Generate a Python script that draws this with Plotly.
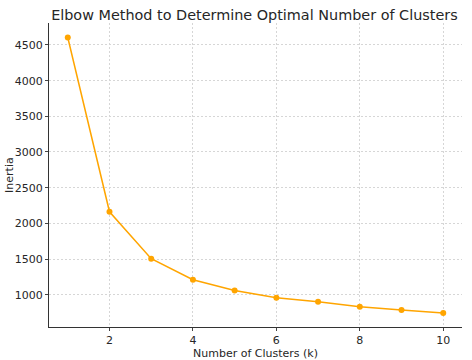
import plotly.graph_objects as go

clusters = [1, 2, 3, 4, 5, 6, 7, 8, 9, 10]
inertia = [4605, 2162, 1504, 1210, 1060, 958, 902, 832, 785, 742]
x_ticks = [2, 4, 6, 8, 10]
y_ticks = [1000, 1500, 2000, 2500, 3000, 3500, 4000, 4500]

fig = go.Figure()
fig.add_trace(go.Scatter(
    x=clusters, y=inertia, mode="lines+markers",
    line=dict(color="#FFA500", width=1.5),
    marker=dict(color="#FFA500", size=6),
))

font = "DejaVu Sans"
fig.update_layout(
    width=472, height=360,
    margin=dict(l=49, r=10, t=23, b=33, autoexpand=False),
    paper_bgcolor="white", plot_bgcolor="white",
    showlegend=False,
    font=dict(family=font, size=11, color="#262626"),
    title=dict(text="Elbow Method to Determine Optimal Number of Clusters",
               x=0.539, xanchor="center", y=0.972, yanchor="top",
               font=dict(family=font, size=14.4, color="#262626")),
)
grid = dict(showgrid=True, gridcolor="#d6d6d6", griddash="2px,2px", gridwidth=0.8)
fig.update_xaxes(
    range=[0.55, 10.45], tickvals=x_ticks, ticks="outside", ticklen=3,
    showline=True, linecolor="#333", linewidth=1, automargin=False,
    zeroline=False, **grid,
    title=dict(text="Number of Clusters (k)", standoff=2, font=dict(size=11)),
)
fig.update_yaxes(
    range=[547, 4808], tickvals=y_ticks, ticks="outside", ticklen=3,
    showline=True, linecolor="#333", linewidth=1, automargin=False,
    zeroline=False, **grid,
)
fig.add_annotation(
    text="Inertia", textangle=-90, showarrow=False,
    xref="paper", yref="paper", x=-0.097, y=0.5,
    xanchor="center", yanchor="middle",
    font=dict(family=font, size=11, color="#262626"),
)
fig.write_html("out.html", config={"displayModeBar": False},
               post_script="document.body.style.margin='0';")
